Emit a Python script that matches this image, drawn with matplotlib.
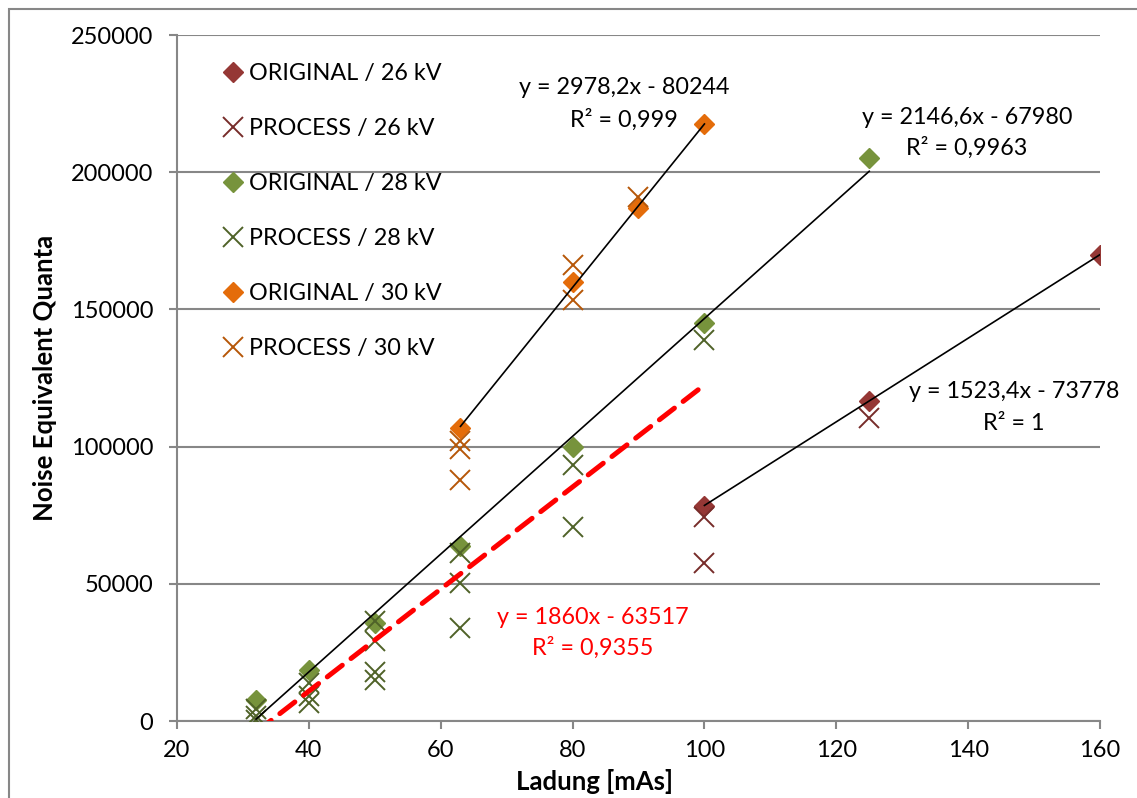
import matplotlib
matplotlib.use("Agg")
import matplotlib.pyplot as plt
import numpy as np
from matplotlib.patches import Rectangle

plt.rcParams['font.family'] = ['Lato', 'DejaVu Sans']

# ---- data ----
orig26_x = [100, 125, 160]
orig26_y = [78500, 116500, 170000]
proc26_x = [100, 100, 125]
proc26_y = [74300, 57500, 110400]

orig28_x = [32, 40, 50, 63, 80, 100, 125]
orig28_y = [7600, 18500, 35800, 63900, 99900, 145200, 205300]
proc28_x = [32, 32, 32, 40, 40, 40, 50, 50, 50, 50, 63, 63, 63, 80, 80, 100]
proc28_y = [4500, 2000, 500, 14000, 9000, 6500, 36500, 29000, 18000, 15000,
            61200, 50300, 33900, 93300, 70700, 138800]

orig30_x = [63, 80, 90, 100]
orig30_y = [106800, 160000, 187000, 217600]
proc30_x = [63, 63, 63, 80, 80, 90]
proc30_y = [102000, 99300, 87800, 166200, 153400, 190800]

# trendlines: (slope, intercept, x_start, x_end)
trend_orig30 = (2978.2, -80244, 63, 100)
trend_orig28 = (2146.6, -67980, 32, 125)
trend_orig26 = (1523.4, -73778, 100, 160)
trend_proc = (1860.0, -63517, 32, 100)

labels = ["ORIGINAL / 26 kV", "PROCESS / 26 kV", "ORIGINAL / 28 kV",
          "PROCESS / 28 kV", "ORIGINAL / 30 kV", "PROCESS / 30 kV"]
x_ticks = [20, 40, 60, 80, 100, 120, 140, 160]
y_ticks = [0, 50000, 100000, 150000, 200000, 250000]

# ---- figure ----
W, H = 1137, 798
fig = plt.figure(figsize=(W / 100, H / 100), dpi=100)
ax = fig.add_axes([177 / W, 1 - 721 / H, (1100 - 177) / W, (721 - 35) / H])

c_o26, c_p26 = '#953735', '#772C2A'
c_o28, c_p28 = '#77933C', '#4F6228'
c_o30, c_p30 = '#E46C0A', '#B65708'

dms = 10.5
xms = 14
xmew = 1.4

ax.plot(orig26_x, orig26_y, ls='none', marker='D', ms=dms, color=c_o26, mec=c_o26, label=labels[0], zorder=3)
ax.plot(proc26_x, proc26_y, ls='none', marker='x', ms=xms, mew=xmew, color=c_p26, label=labels[1], zorder=3)
ax.plot(orig28_x, orig28_y, ls='none', marker='D', ms=dms, color=c_o28, mec=c_o28, label=labels[2], zorder=3)
ax.plot(proc28_x, proc28_y, ls='none', marker='x', ms=xms, mew=xmew, color=c_p28, label=labels[3], zorder=3)
ax.plot(orig30_x, orig30_y, ls='none', marker='D', ms=dms, color=c_o30, mec=c_o30, label=labels[4], zorder=3)
ax.plot(proc30_x, proc30_y, ls='none', marker='x', ms=xms, mew=xmew, color=c_p30, label=labels[5], zorder=3)

for (m, b, x0, x1) in [trend_orig30, trend_orig28, trend_orig26]:
    xs = np.array([x0, x1], dtype=float)
    ax.plot(xs, m * xs + b, color='black', lw=1.2, zorder=4)

m, b, x0, x1 = trend_proc
xs = np.array([x0, x1], dtype=float)
ax.plot(xs, m * xs + b, color='#FF0000', lw=3.6, ls=(0, (3.8, 2.2)),
        dash_capstyle='round', zorder=4)

ax.set_xlim(20, 160)
ax.set_ylim(0, 250000)
ax.set_xticks(x_ticks)
ax.set_yticks(y_ticks)
ax.set_xticklabels([str(v) for v in x_ticks])
ax.set_yticklabels([str(v) for v in y_ticks])

gc = '#878787'
ax.grid(axis='y', color=gc, lw=1.5, zorder=0)
ax.set_axisbelow(True)
for s in ['top', 'right']:
    ax.spines[s].set_visible(False)
for s in ['left', 'bottom']:
    ax.spines[s].set_color(gc)
    ax.spines[s].set_linewidth(1.5)
ax.tick_params(axis='both', colors=gc, labelcolor='black', labelsize=17, length=6, width=1.5, direction='out')
ax.tick_params(axis='y', pad=11)
ax.tick_params(axis='x', pad=8)

fs = 16.8
leg = ax.legend(loc='upper left', bbox_to_anchor=(222 / W, 1 - 63 / H), bbox_transform=fig.transFigure,
                frameon=False, fontsize=fs, labelspacing=1.46, handlelength=0.9, handletextpad=0.25,
                borderpad=0, borderaxespad=0)

def ftext(x, y, s, color='black'):
    fig.text(x / W, 1 - y / H, s, ha='center', va='center', fontsize=fs, color=color)

ftext(624, 88, "y = 2978,2x - 80244")
ftext(624, 120, "R² = 0,999")
ftext(967, 117, "y = 2146,6x - 67980")
ftext(967, 148, "R² = 0,9963")
ftext(1014, 392, "y = 1523,4x - 73778")
ftext(1014, 424, "R² = 1")
ftext(593, 617, "y = 1860x - 63517", color='#FF0000')
ftext(593, 648, "R² = 0,9355", color='#FF0000')

fig.text(594 / W, 1 - 781 / H, "Ladung [mAs]", ha='center', va='center', fontsize=18.5, fontweight='bold')
fig.text(45 / W, 1 - 378 / H, "Noise Equivalent Quanta", ha='center', va='center', fontsize=18.5,
         fontweight='bold', rotation=90)

# outer chart border (only top and left visible)
fig.patches.append(Rectangle((9 / W, -0.1), 1.2, 1.1 - 9 / H, transform=fig.transFigure,
                             fill=False, edgecolor='#878787', lw=1.5))

fig.savefig('out.png', dpi=100)
